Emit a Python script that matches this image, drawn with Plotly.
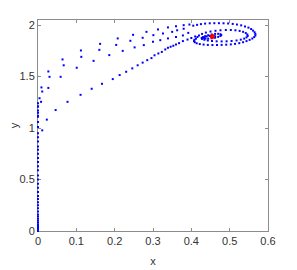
import plotly.graph_objects as go

# Trajectory points (x, y)
traj_a_x = [0.000, 0.004, 0.009, 0.027, 0.064, 0.112, 0.162, 0.208, 0.248, 0.283, 0.313, 0.339, 0.360, 0.380, 0.395]
traj_a_y = [1.150, 1.290, 1.395, 1.550, 1.667, 1.754, 1.818, 1.871, 1.906, 1.935, 1.958, 1.978, 1.990, 2.000, 2.006]

traj_b_x = [0.000, 0.011, 0.030, 0.067, 0.113, 0.160, 0.204, 0.241, 0.273, 0.301, 0.326, 0.350, 0.363, 0.380]
traj_b_y = [1.210, 1.355, 1.498, 1.610, 1.692, 1.760, 1.808, 1.848, 1.877, 1.903, 1.919, 1.935, 1.950, 1.965]

traj_c_x = [0.000, 0.008, 0.027, 0.059, 0.101, 0.145, 0.186, 0.221, 0.252, 0.276, 0.300, 0.319, 0.339, 0.360, 0.378, 0.392]
traj_c_y = [1.120, 1.255, 1.390, 1.498, 1.586, 1.653, 1.709, 1.750, 1.784, 1.806, 1.838, 1.854, 1.871, 1.885, 1.900, 1.925]

traj_d_x = [0.011, 0.023, 0.046, 0.077, 0.111, 0.140, 0.167, 0.195, 0.213, 0.230, 0.246, 0.260, 0.273, 0.285,
            0.296, 0.304, 0.314, 0.323, 0.332, 0.339, 0.346, 0.353, 0.360, 0.368, 0.378, 0.390, 0.400, 0.410]
traj_d_y = [0.978, 1.082, 1.175, 1.255, 1.323, 1.382, 1.430, 1.476, 1.515, 1.547, 1.580, 1.610, 1.636, 1.660,
            1.680, 1.707, 1.725, 1.740, 1.764, 1.780, 1.790, 1.800, 1.812, 1.825, 1.845, 1.860, 1.875, 1.890]

axis_x = [0.0] * 39
axis_y = [0.00, 0.01, 0.02, 0.03, 0.04, 0.05, 0.06, 0.08, 0.10, 0.12, 0.14, 0.16, 0.19, 0.22, 0.25, 0.28,
          0.31, 0.34, 0.38, 0.42, 0.46, 0.50, 0.54, 0.59, 0.63, 0.67, 0.71, 0.75, 0.79, 0.82, 0.87, 0.91,
          0.95, 1.01, 1.06, 1.11, 1.17, 1.21, 1.24]

spiral_x = [0.405, 0.415, 0.425, 0.436, 0.448, 0.460, 0.472, 0.484, 0.496, 0.508, 0.519, 0.530, 0.540, 0.549,
            0.556, 0.561, 0.565, 0.567, 0.567, 0.564, 0.559, 0.552, 0.544, 0.535, 0.525, 0.514, 0.503, 0.491,
            0.479, 0.467, 0.455, 0.443, 0.432, 0.422, 0.414, 0.409, 0.407, 0.408, 0.412, 0.416,
            0.420, 0.428, 0.438, 0.450, 0.463, 0.476, 0.490, 0.503, 0.515, 0.526, 0.535, 0.542, 0.546, 0.547,
            0.544, 0.538, 0.529, 0.518, 0.505, 0.492, 0.479, 0.466, 0.454, 0.443, 0.434, 0.428, 0.427, 0.430,
            0.436, 0.444, 0.453, 0.462, 0.470, 0.476, 0.478, 0.476, 0.470, 0.462, 0.453, 0.444, 0.437, 0.433,
            0.434, 0.440, 0.448, 0.455, 0.461, 0.462, 0.458, 0.453, 0.452]
spiral_y = [1.995, 2.003, 2.010, 2.015, 2.018, 2.019, 2.019, 2.018, 2.016, 2.012, 2.006, 1.998, 1.988, 1.976,
            1.962, 1.947, 1.931, 1.915, 1.899, 1.884, 1.870, 1.857, 1.845, 1.834, 1.825, 1.818, 1.813, 1.810,
            1.808, 1.807, 1.807, 1.808, 1.811, 1.816, 1.824, 1.834, 1.845, 1.857, 1.868, 1.885,
            1.900, 1.915, 1.928, 1.938, 1.945, 1.950, 1.953, 1.953, 1.950, 1.944, 1.935, 1.923, 1.909, 1.895,
            1.881, 1.869, 1.859, 1.851, 1.846, 1.843, 1.842, 1.843, 1.846, 1.851, 1.858, 1.866, 1.875, 1.884,
            1.893, 1.902, 1.910, 1.915, 1.916, 1.912, 1.904, 1.895, 1.886, 1.878, 1.872, 1.869, 1.870, 1.876,
            1.884, 1.891, 1.895, 1.896, 1.893, 1.888, 1.884, 1.885, 1.889]

fixed_x = [0.455]
fixed_y = [1.890]

x_ticks = [0, 0.1, 0.2, 0.3, 0.4, 0.5, 0.6]
x_tick_text = ["0", "0.1", "0.2", "0.3", "0.4", "0.5", "0.6"]
y_ticks = [0, 0.5, 1, 1.5, 2]
y_tick_text = ["0", "0.5", "1", "1.5", "2"]

blue = "#0000ff"
fig = go.Figure()
for xs, ys in [(axis_x, axis_y), (traj_a_x, traj_a_y), (traj_b_x, traj_b_y), (traj_c_x, traj_c_y),
               (traj_d_x, traj_d_y), (spiral_x, spiral_y)]:
    fig.add_trace(go.Scatter(x=xs, y=ys, mode="markers", cliponaxis=False,
                             marker=dict(color=blue, size=2, symbol="square", line=dict(width=0)),
                             showlegend=False, hoverinfo="skip"))
fig.add_trace(go.Scatter(x=fixed_x, y=fixed_y, mode="markers", cliponaxis=False,
                         marker=dict(color="#ff0000", size=5, line=dict(width=0)), showlegend=False))

axis_style = dict(showgrid=False, zeroline=False, showline=True, linecolor="#8c8c8c", linewidth=1,
                  mirror="ticks", ticks="inside", ticklen=3, tickcolor="#8c8c8c",
                  tickfont=dict(family="Liberation Sans", size=11, color="#333333"),
                  layer="below traces", automargin=False)
# page body has an 8px default margin, so the figure is sized to fit inside the window
fig.update_layout(
    width=289, height=262,
    margin=dict(l=30, r=29, t=12, b=39),
    paper_bgcolor="white", plot_bgcolor="white",
    xaxis=dict(range=[0, 0.6], tickvals=x_ticks, ticktext=x_tick_text,
               title=dict(text="x", font=dict(family="Liberation Sans", size=11, color="#333333"), standoff=11),
               **axis_style),
    yaxis=dict(range=[0, 2.05], tickvals=y_ticks, ticktext=y_tick_text,
               title=dict(text="y", font=dict(family="Liberation Sans", size=11, color="#333333"), standoff=4),
               **axis_style),
)
fig.write_html("out.html")
